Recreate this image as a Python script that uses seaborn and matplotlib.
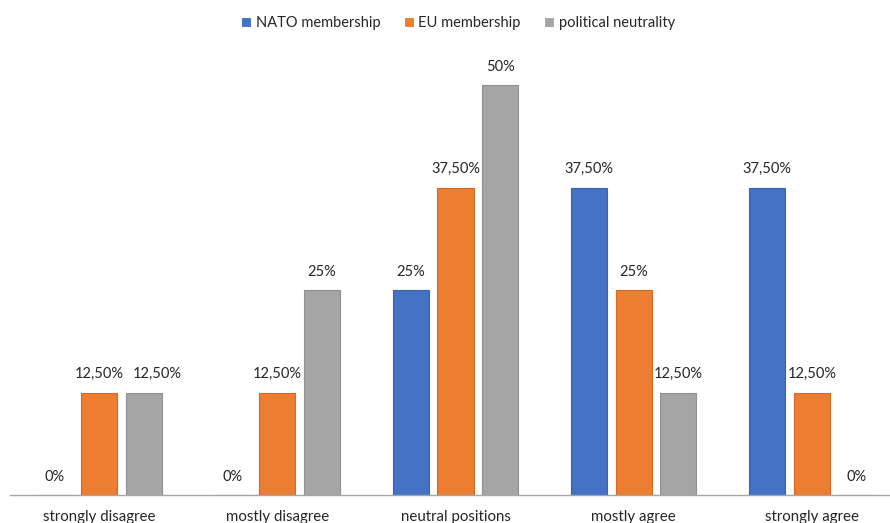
import matplotlib
matplotlib.use("Agg")
import matplotlib.pyplot as plt
import seaborn as sns
import pandas as pd

categories = ["strongly disagree", "mostly disagree", "neutral positions", "mostly agree", "strongly agree"]
series_names = ["NATO membership", "EU membership", "political neutrality"]
nato = [0, 0, 25, 37.5, 37.5]
eu = [12.5, 12.5, 37.5, 25, 12.5]
neutrality = [12.5, 25, 50, 12.5, 0]
colors = ["#4472C4", "#ED7D31", "#A5A5A5"]

rows = []
for name, vals in zip(series_names, [nato, eu, neutrality]):
    for c, v in zip(categories, vals):
        rows.append({"category": c, "series": name, "value": v})
df = pd.DataFrame(rows)

sns.set_theme(style="white")
plt.rcParams["font.family"] = ["Lato", "DejaVu Sans"]

fig = plt.figure(figsize=(8.9, 5.23), dpi=100)
ax = fig.add_axes([10/890, 28/523, 891/890, 451/523])

sns.barplot(data=df, x="category", y="value", hue="series", order=categories,
            hue_order=series_names, palette=colors, width=0.75, gap=0.19,
            saturation=1, linewidth=0.8, ax=ax, errorbar=None)

edge = {"#4472C4": "#3a63ad", "#ED7D31": "#d06a25", "#A5A5A5": "#8f8f8f"}
for cont, col in zip(ax.containers, colors):
    for p in cont.patches:
        p.set_edgecolor(edge[col])


def fmt(v):
    if float(v).is_integer():
        return f"{int(v)}%"
    return f"{v:.2f}".replace(".", ",") + "%"

all_labels = []
for cont, vals in zip(ax.containers, [nato, eu, neutrality]):
    all_labels.append(ax.bar_label(cont, labels=[fmt(v) for v in vals], padding=8,
                                   fontsize=10.5, color="#262626"))
# the neutrality label of the first group is nudged right in the original
all_labels[2][0].xyann = (10, 8)

ax.set_ylim(0, 55)
ax.set_xlim(-0.5, 4.5)
ax.set_xlabel("")
ax.set_ylabel("")
ax.set_yticks([])
ax.tick_params(axis="x", length=0, labelsize=10.8, labelcolor="#262626", pad=11)
for s in ["top", "right", "left"]:
    ax.spines[s].set_visible(False)
ax.spines["bottom"].set_color("#a6a6a6")
ax.spines["bottom"].set_linewidth(1)

leg = ax.legend(loc="upper center", ncol=3, frameon=False, fontsize=10.5,
                handlelength=0.7, handleheight=0.7, handletextpad=0.3, columnspacing=1.6)
leg.set_bbox_to_anchor((0.5 + 13/890, 1 - 3/523), transform=fig.transFigure)
for t in leg.get_texts():
    t.set_color("#262626")

fig.savefig("out.png", dpi=100)
